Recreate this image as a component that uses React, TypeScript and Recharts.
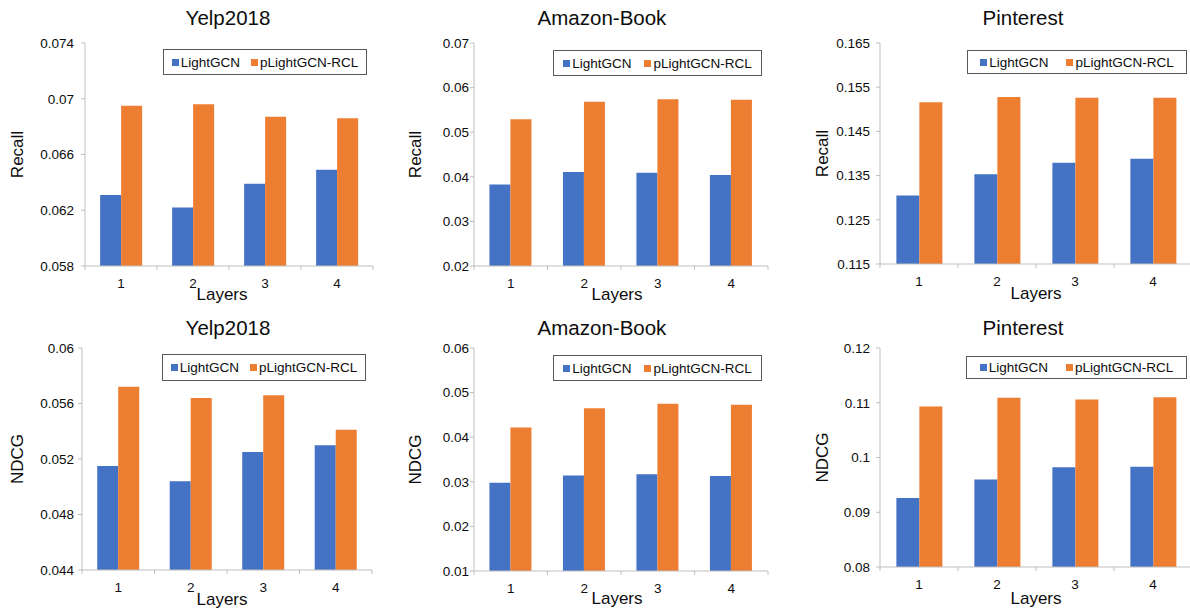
import { FC } from 'react'
import { BarChart, Bar, XAxis, YAxis, Legend } from 'recharts'

const layers = ['1', '2', '3', '4']
const seriesNames = ['LightGCN', 'pLightGCN-RCL']

const yelpRecallLightGCN = [0.0631, 0.0622, 0.0639, 0.0649]
const yelpRecallRCL = [0.0695, 0.0696, 0.0687, 0.0686]
const amazonRecallLightGCN = [0.0383, 0.0411, 0.0409, 0.0404]
const amazonRecallRCL = [0.0529, 0.0568, 0.0574, 0.0573]
const pinterestRecallLightGCN = [0.1305, 0.1353, 0.1379, 0.1388]
const pinterestRecallRCL = [0.1516, 0.1528, 0.1526, 0.1526]

const yelpNdcgLightGCN = [0.0515, 0.0504, 0.0525, 0.053]
const yelpNdcgRCL = [0.0572, 0.0564, 0.0566, 0.0541]
const amazonNdcgLightGCN = [0.0298, 0.0314, 0.0317, 0.0313]
const amazonNdcgRCL = [0.0422, 0.0465, 0.0475, 0.0473]
const pinterestNdcgLightGCN = [0.0926, 0.096, 0.0982, 0.0983]
const pinterestNdcgRCL = [0.1093, 0.1109, 0.1106, 0.111]

const yelpRecallTicks = [0.058, 0.062, 0.066, 0.07, 0.074]
const amazonRecallTicks = [0.02, 0.03, 0.04, 0.05, 0.06, 0.07]
const pinterestRecallTicks = [0.115, 0.125, 0.135, 0.145, 0.155, 0.165]
const yelpNdcgTicks = [0.044, 0.048, 0.052, 0.056, 0.06]
const amazonNdcgTicks = [0.01, 0.02, 0.03, 0.04, 0.05, 0.06]
const pinterestNdcgTicks = [0.08, 0.09, 0.1, 0.11, 0.12]

const BLUE = '#4472C4'
const ORANGE = '#ED7D31'
const AXIS = '#bfbfbf'
const BORDER = '#d9d9d9'
const TEXT = '#0d0d0d'
const FONT = '"Liberation Sans", Arial, sans-serif'

const LEFT = 90
const TOP = 45
const BOTTOM = 45
const RIGHT = 10
const TICK_GAP = 12

type Box = { x: number; y: number; w: number; h: number }

type PanelProps = {
    title: string
    titleX: number
    titleY: number
    metric: string
    a: number[]
    b: number[]
    ticks: number[]
    plot: Box
    legend: Box
    legendGap: number
    labelDist: number
    yGap: number
    layersDx: number
    layersDy: number
}

const Panel: FC<PanelProps> = (p) => {
    const data = layers.map((l, i) => ({ layer: l, [seriesNames[0]]: p.a[i], [seriesNames[1]]: p.b[i] }))
    const band = p.plot.w / layers.length
    const domain = [p.ticks[0], p.ticks[p.ticks.length - 1]]
    const chartLeft = p.plot.x - LEFT
    const chartTop = p.plot.y - TOP

    // category ticks sit between the bars, like the spreadsheet original
    const renderTick = (props: any) => {
        const { x, y, payload, index } = props
        const axisY = y - TICK_GAP
        return (
            <g>
                <line x1={x - band / 2} x2={x - band / 2} y1={axisY} y2={axisY + 4} stroke={AXIS} />
                {index === layers.length - 1 && (
                    <line x1={x + band / 2} x2={x + band / 2} y1={axisY} y2={axisY + 4} stroke={AXIS} />
                )}
                <text x={x} y={y} dy="0.71em" textAnchor="middle" fontSize={13.5} fill={TEXT} fontFamily={FONT}>
                    {payload.value}
                </text>
            </g>
        )
    }

    const renderLegend = (props: any) => (
        <div
            style={{
                display: 'flex',
                justifyContent: 'center',
                alignItems: 'center',
                gap: p.legendGap,
                height: '100%',
            }}
        >
            {(props.payload || []).map((entry: any) => (
                <div key={entry.value} style={{ display: 'flex', alignItems: 'center' }}>
                    <span style={{ width: 7, height: 7, background: entry.color, marginRight: 2, display: 'inline-block' }} />
                    <span style={{ color: TEXT }}>{entry.value}</span>
                </div>
            ))}
        </div>
    )

    return (
        <>
            <div
                style={{
                    position: 'absolute',
                    left: p.titleX - 100,
                    width: 200,
                    top: p.titleY - 12,
                    lineHeight: '24px',
                    textAlign: 'center',
                    fontSize: 20.5,
                    fontFamily: FONT,
                    color: TEXT,
                }}
            >
                {p.title}
            </div>
            <div style={{ position: 'absolute', left: chartLeft, top: chartTop }}>
                <BarChart
                    width={LEFT + p.plot.w + RIGHT}
                    height={TOP + p.plot.h + BOTTOM}
                    data={data}
                    margin={{ top: TOP, right: RIGHT, bottom: 0, left: 0 }}
                    barCategoryGap="21%"
                    barGap={0}
                >
                    <XAxis
                        dataKey="layer"
                        height={BOTTOM}
                        stroke={AXIS}
                        tickLine={false}
                        tickSize={0}
                        tickMargin={TICK_GAP}
                        tick={renderTick}
                        label={(lp: any) => {
                            const vb = lp.viewBox
                            return (
                                <text
                                    x={vb.x + vb.width / 2 + p.layersDx}
                                    y={vb.y + p.layersDy}
                                    textAnchor="middle"
                                    fontSize={17}
                                    fill={TEXT}
                                    fontFamily={FONT}
                                >
                                    Layers
                                </text>
                            )
                        }}
                    />
                    <XAxis xAxisId="top" dataKey="layer" orientation="top" height={0} tick={false} tickLine={false} stroke={BORDER} />
                    <YAxis
                        width={LEFT}
                        domain={domain}
                        ticks={p.ticks}
                        allowDataOverflow
                        stroke={AXIS}
                        tickSize={4}
                        tickMargin={p.yGap - 4}
                        tick={{ fontSize: 13.5, fill: TEXT, fontFamily: FONT }}
                        label={(lp: any) => {
                            const vb = lp.viewBox
                            const cx = vb.x + vb.width - p.labelDist
                            const cy = vb.y + vb.height / 2
                            return (
                                <text
                                    transform={`translate(${cx}, ${cy}) rotate(-90)`}
                                    textAnchor="middle"
                                    dominantBaseline="central"
                                    fontSize={17}
                                    fill={TEXT}
                                    fontFamily={FONT}
                                >
                                    {p.metric}
                                </text>
                            )
                        }}
                    />
                    <YAxis yAxisId="right" orientation="right" width={0} domain={domain} tick={false} tickLine={false} stroke={BORDER} />
                    <Legend
                        layout="horizontal"
                        verticalAlign="middle"
                        align="center"
                        content={renderLegend}
                        wrapperStyle={{
                            left: p.legend.x - chartLeft,
                            top: p.legend.y - chartTop,
                            width: p.legend.w,
                            height: p.legend.h,
                            border: '1px solid #595959',
                            boxSizing: 'border-box',
                            background: '#fff',
                            fontSize: 13.5,
                            fontFamily: FONT,
                        }}
                    />
                    <Bar dataKey={seriesNames[0]} fill={BLUE} isAnimationActive={false} />
                    <Bar dataKey={seriesNames[1]} fill={ORANGE} isAnimationActive={false} />
                </BarChart>
            </div>
        </>
    )
}

const App: FC = () => {
    return (
        <div
            style={{
                position: 'absolute',
                left: 0,
                top: 0,
                width: 1190,
                height: 608,
                overflow: 'hidden',
                background: '#fff',
            }}
        >
            <Panel title="Yelp2018" titleX={228} titleY={18} metric="Recall" a={yelpRecallLightGCN} b={yelpRecallRCL}
                ticks={yelpRecallTicks} plot={{ x: 85, y: 43, w: 288, h: 223 }} legend={{ x: 163, y: 49, w: 204, h: 26 }}
                legendGap={11} labelDist={68} yGap={11} layersDx={-7} layersDy={34} />
            <Panel title="Amazon-Book" titleX={602} titleY={18} metric="Recall" a={amazonRecallLightGCN} b={amazonRecallRCL}
                ticks={amazonRecallTicks} plot={{ x: 474, y: 43, w: 294, h: 223 }} legend={{ x: 553, y: 50, w: 209, h: 26 }}
                legendGap={13} labelDist={59} yGap={5} layersDx={-4} layersDy={34} />
            <Panel title="Pinterest" titleX={1023} titleY={18} metric="Recall" a={pinterestRecallLightGCN} b={pinterestRecallRCL}
                ticks={pinterestRecallTicks} plot={{ x: 880, y: 43, w: 312, h: 221 }} legend={{ x: 967, y: 50, w: 220, h: 24 }}
                legendGap={18} labelDist={58} yGap={10} layersDx={0} layersDy={35} />
            <Panel title="Yelp2018" titleX={228} titleY={328} metric="NDCG" a={yelpNdcgLightGCN} b={yelpNdcgRCL}
                ticks={yelpNdcgTicks} plot={{ x: 82, y: 348, w: 290, h: 222 }} legend={{ x: 162, y: 354, w: 204, h: 27 }}
                legendGap={11} labelDist={65} yGap={8} layersDx={-5} layersDy={35} />
            <Panel title="Amazon-Book" titleX={602} titleY={328} metric="NDCG" a={amazonNdcgLightGCN} b={amazonNdcgRCL}
                ticks={amazonNdcgTicks} plot={{ x: 474, y: 348, w: 294, h: 223 }} legend={{ x: 553, y: 355, w: 209, h: 26 }}
                legendGap={13} labelDist={59} yGap={5} layersDx={-4} layersDy={33} />
            <Panel title="Pinterest" titleX={1023} titleY={328} metric="NDCG" a={pinterestNdcgLightGCN} b={pinterestNdcgRCL}
                ticks={pinterestNdcgTicks} plot={{ x: 880, y: 348, w: 312, h: 219 }} legend={{ x: 966, y: 356, w: 221, h: 23 }}
                legendGap={18} labelDist={58} yGap={10} layersDx={0} layersDy={37} />
        </div>
    )
}

export default App
